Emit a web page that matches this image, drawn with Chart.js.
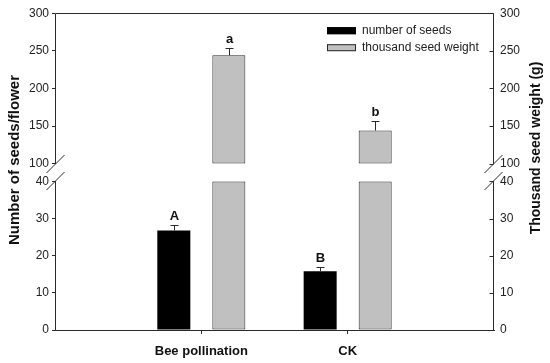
<!DOCTYPE html>
<html><head><meta charset="utf-8">
<script src="https://cdn.jsdelivr.net/npm/chart.js@4.4.0/dist/chart.umd.min.js"></script>
<style>html,body{margin:0;padding:0;background:#fff}#wrap{width:550px;height:363px;position:relative}canvas{display:block}</style>
</head><body><div id="wrap"><canvas id="c" width="550" height="363" style="width:550px;height:363px"></canvas></div>
<script>
const categories = ['Bee pollination', 'CK'];
const seedCount = [26.8, 15.8];
const seedCountErr = [1.6, 1.2];
const seedWeight = [244, 144];
const seedWeightErr = [10, 12];
const seedCountLetters = ['A', 'B'];
const seedWeightLetters = ['a', 'b'];
const lowTicks = [0, 10, 20, 30, 40];
const highTicks = [100, 150, 200, 250, 300];
const seriesNames = ['number of seeds', 'thousand seed weight'];
const axisTitles = ['Number of seeds/flower', 'Thousand seed weight (g)'];

// broken axis mapping
const LOW_MAX = 40, HIGH_MIN = 100, HIGH_MAX = 300, GAP = 4.8, K = 0.2025;
function toV(y){ return y <= LOW_MAX ? y : LOW_MAX + GAP + (y - HIGH_MIN) * K; }
const V_MAX = toV(HIGH_MAX);
const allTicks = lowTicks.concat(highTicks);

const labels = [''].concat(categories, ['']);
const pad = a => [null].concat(a, [null]);

const AXIS = '#2a2a2a';
const TXT = '#222';
const FONT = "'Liberation Sans', Arial, sans-serif";

const yScaleCommon = {
  type: 'linear', min: 0, max: V_MAX,
  afterBuildTicks: s => { s.ticks = allTicks.map(t => ({value: toV(t)})); },
  border: {display: false},
};

const overlay = {
  id: 'overlay',
  afterDatasetsDraw(chart) {
    const ctx = chart.ctx, y = chart.scales.y;
    ctx.save();
    ctx.strokeStyle = AXIS; ctx.lineWidth = 1;
    ctx.fillStyle = '#111';
    ctx.font = 'bold 13px ' + FONT;
    ctx.textAlign = 'center'; ctx.textBaseline = 'bottom';
    const draw = (dsIdx, values, errs, letters) => {
      const meta = chart.getDatasetMeta(dsIdx);
      values.forEach((v, i) => {
        const bar = meta.data[i + 1];
        const x = Math.round(bar.x) + 0.5;
        const top = y.getPixelForValue(toV(v));
        const et = Math.round(y.getPixelForValue(toV(v + errs[i]))) + 0.5;
        ctx.beginPath();
        ctx.moveTo(x, top); ctx.lineTo(x, et);
        ctx.moveTo(x - 4, et); ctx.lineTo(x + 4, et);
        ctx.stroke();
        ctx.fillText(letters[i], x, et - 3);
      });
    };
    draw(0, seedCount, seedCountErr, seedCountLetters);
    draw(2, seedWeight, seedWeightErr, seedWeightLetters);
    ctx.restore();
  },
  afterDraw(chart) {
    const ctx = chart.ctx, a = chart.chartArea, y = chart.scales.y;
    const pLow = Math.round(y.getPixelForValue(toV(LOW_MAX)));
    const pHigh = Math.round(y.getPixelForValue(toV(HIGH_MIN)));
    const L = Math.round(a.left) + 0.5, R = Math.round(a.right) - 0.5;
    const T = Math.round(a.top) + 0.5, B = Math.round(a.bottom);
    ctx.save();
    ctx.strokeStyle = AXIS; ctx.lineWidth = 1;
    ctx.beginPath();
    ctx.moveTo(L, T); ctx.lineTo(R, T);
    [L, R].forEach(x => {
      ctx.moveTo(x, B); ctx.lineTo(x, pLow);
      ctx.moveTo(x, pHigh); ctx.lineTo(x, T);
    });
    allTicks.forEach(t => {
      const py = Math.round(y.getPixelForValue(toV(t))) + 0.5;
      ctx.moveTo(R - 4, py); ctx.lineTo(R, py);
    });
    ctx.stroke();
    ctx.beginPath();
    [L, R].forEach(x => {
      [pLow, pHigh].forEach(p => {
        ctx.moveTo(x - 9, p + 9); ctx.lineTo(x + 9, p - 9);
      });
    });
    ctx.stroke();

    // legend
    const lx = a.right - 167, ly = a.top + 14;
    const boxes = [{fill: '#000', stroke: '#000'}, {fill: '#c0c0c0', stroke: AXIS}];
    ctx.font = '12px ' + FONT;
    ctx.textAlign = 'left'; ctx.textBaseline = 'middle';
    seriesNames.forEach((name, i) => {
      const by = ly + i * 17;
      ctx.fillStyle = boxes[i].fill;
      ctx.fillRect(lx, by, 29, 7);
      ctx.strokeStyle = boxes[i].stroke;
      ctx.strokeRect(lx + 0.5, by + 0.5, 28, 6);
      ctx.fillStyle = TXT;
      ctx.fillText(name, lx + 35, by + 3.5);
    });

    // axis titles (both read bottom to top)
    ctx.fillStyle = '#111';
    ctx.textAlign = 'center'; ctx.textBaseline = 'middle';
    ctx.save();
    ctx.translate(15, 160); ctx.rotate(-Math.PI / 2);
    ctx.font = 'bold 15px ' + FONT;
    ctx.fillText(axisTitles[0], 0, 0);
    ctx.restore();
    ctx.save();
    ctx.translate(536, 148); ctx.rotate(-Math.PI / 2);
    ctx.font = 'bold 14px ' + FONT;
    ctx.fillText(axisTitles[1], 0, 0);
    ctx.restore();
    ctx.restore();
  }
};

new Chart(document.getElementById('c'), {
  type: 'bar',
  data: {
    labels: labels,
    datasets: [
      {label: seriesNames[0], data: pad(seedCount.map(toV)), stack: 's1',
       backgroundColor: '#000', borderColor: '#000', borderWidth: 0, borderSkipped: false},
      {label: seriesNames[1], data: pad(seedWeight.map(w => [0, toV(Math.min(w, LOW_MAX))])), stack: 's2',
       backgroundColor: '#c0c0c0', borderColor: AXIS, borderWidth: 1, borderSkipped: false},
      {label: seriesNames[1] + ' (upper)', data: pad(seedWeight.map(w => w > LOW_MAX ? [toV(HIGH_MIN), toV(w)] : null)), stack: 's2',
       backgroundColor: '#c0c0c0', borderColor: AXIS, borderWidth: 1, borderSkipped: false}
    ]
  },
  options: {
    responsive: false, animation: false,
    devicePixelRatio: 1,
    categoryPercentage: 0.752, barPercentage: 0.6,
    layout: {padding: {top: 12, left: 0, right: 0, bottom: 0}},
    plugins: {legend: {display: false}, tooltip: {enabled: false}},
    scales: {
      x: {
        type: 'category', offset: false,
        grid: {offset: false, drawOnChartArea: false, drawTicks: true, tickLength: 4,
               color: c => (c.index === 1 || c.index === 2) ? AXIS : 'rgba(0,0,0,0)'},
        border: {display: true, color: AXIS, width: 1},
        ticks: {autoSkip: false, maxRotation: 0, padding: 10, color: '#111',
                font: {family: FONT, size: 13, weight: 'bold'}},
        afterFit: s => { s.height = 33; }
      },
      y: Object.assign({}, yScaleCommon, {
        position: 'left', stacked: false,
        grid: {drawOnChartArea: false, drawTicks: true, tickLength: 3, color: AXIS},
        ticks: {autoSkip: false, padding: 3, color: TXT, font: {family: FONT, size: 12},
                callback: (v, i) => String(allTicks[i])},
        afterFit: s => { s.width = 55; }
      }),
      y2: Object.assign({}, yScaleCommon, {
        position: 'right', stacked: false,
        grid: {display: false, drawOnChartArea: false, drawTicks: false},
        ticks: {autoSkip: false, padding: 6, color: TXT, font: {family: FONT, size: 12},
                callback: (v, i) => String(allTicks[i])},
        afterFit: s => { s.width = 56; }
      })
    }
  },
  plugins: [overlay]
});
</script>
</body></html>
